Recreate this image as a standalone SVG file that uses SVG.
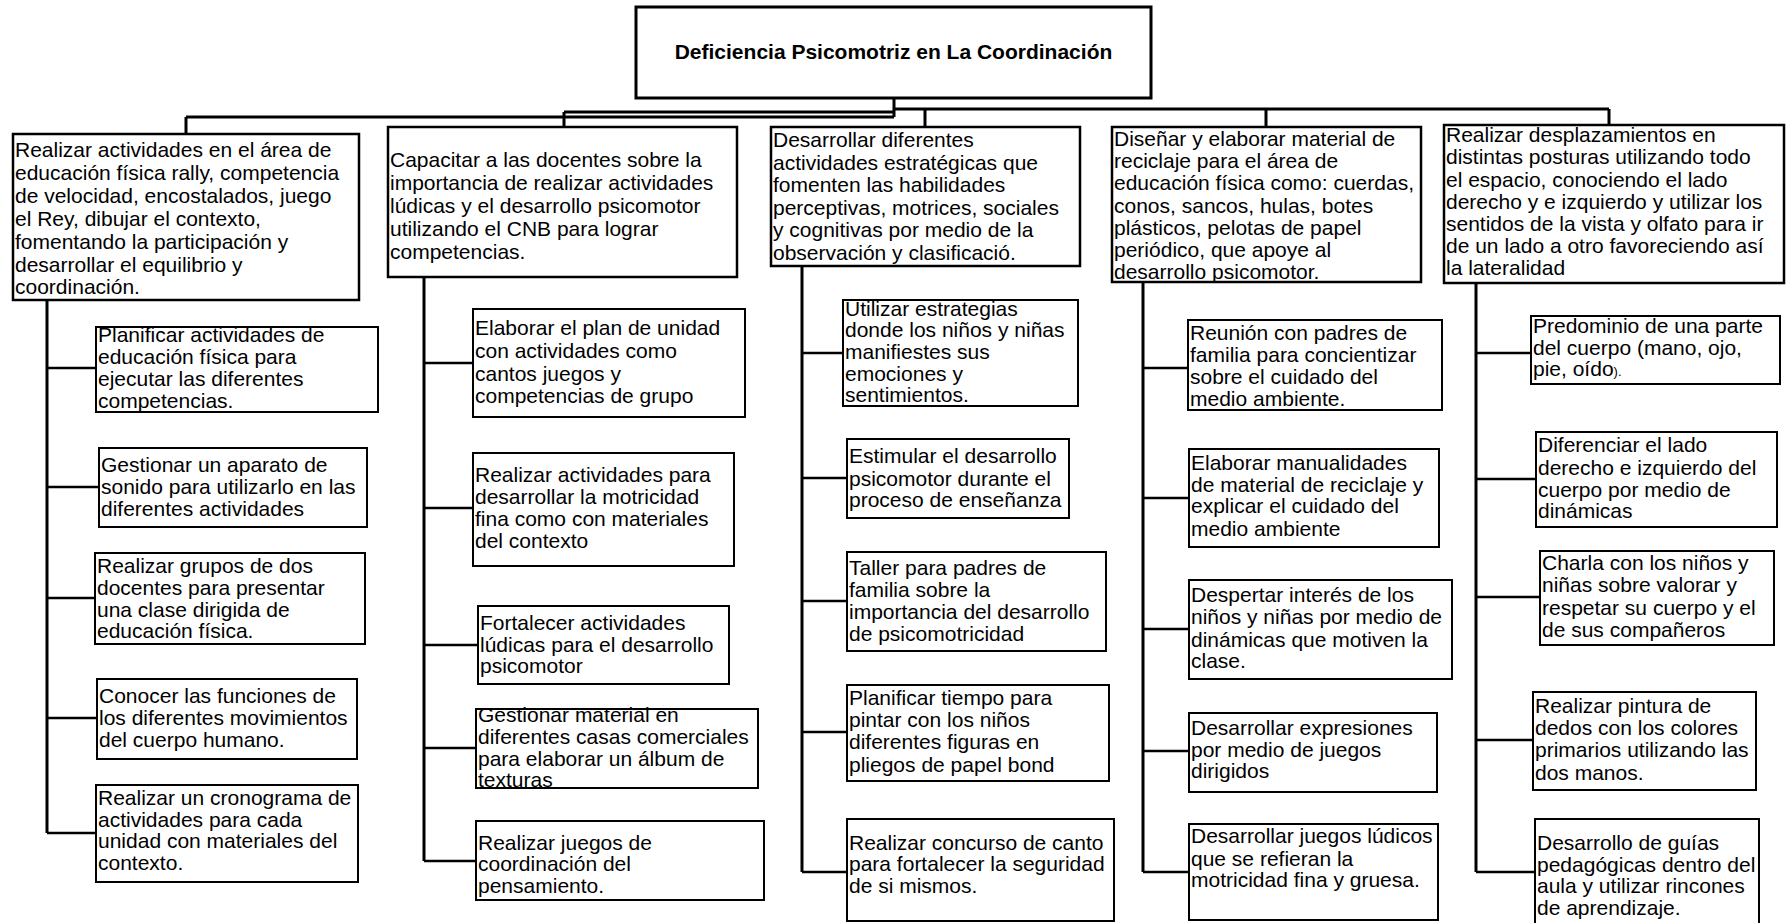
<svg xmlns="http://www.w3.org/2000/svg" width="1788" height="923" viewBox="0 0 1788 923">
<style>
.box{fill:#fff;stroke:#000;stroke-width:2}
.top{fill:#fff;stroke:#000;stroke-width:2.5}
.title{fill:#fff;stroke:#000;stroke-width:3}
.t{font-family:"Liberation Sans",Arial,sans-serif;font-size:21px;fill:#000}
.tb{font-family:"Liberation Sans",Arial,sans-serif;font-size:21px;font-weight:bold;fill:#000}
.bus{stroke:#000;stroke-width:3;fill:none}
.br{stroke:#000;stroke-width:2.5;fill:none}
</style>
<rect width="1788" height="923" fill="#fff"/>
<g id="connectors">
<path class="bus" d="M894 98V117M186 117H894M564 112H894M186 117V134M564 112V127M894 109H1609M925 109V127M1266 109V127M1609 109V125"/>
<path class="bus" d="M47 300V833M424 277V861M802 266V872M1143 282V872M1476 283V872"/>
<path class="br" d="M47 368H96M47 487H99M47 598H95M47 718H97M47 833H96"/>
<path class="br" d="M424 363H473M424 508H473M424 645H478M424 748H476M424 861H476"/>
<path class="br" d="M802 353H843M802 478H847M802 601H847M802 732H847M802 872H847"/>
<path class="br" d="M1143 368H1188M1143 498H1189M1143 629H1189M1143 751H1189M1143 872H1189"/>
<path class="br" d="M1476 353H1531M1476 479H1536M1476 597H1540M1476 740H1533M1476 872H1535"/>
</g>
<g id="title">
<rect class="title" x="636" y="7" width="515" height="91"/>
<text class="tb" x="893.5" y="59" text-anchor="middle">Deficiencia Psicomotriz en La Coordinación</text>
</g>
<g id="l1">
<rect class="top" x="13" y="134" width="346" height="166"/>
<text class="t"><tspan x="15" y="157">Realizar actividades en el área de</tspan><tspan x="15" y="180">educación física rally, competencia</tspan><tspan x="15" y="203">de velocidad, encostalados, juego</tspan><tspan x="15" y="226">el Rey, dibujar el contexto,</tspan><tspan x="15" y="249">fomentando la participación y</tspan><tspan x="15" y="272">desarrollar el equilibrio y</tspan><tspan x="15" y="294">coordinación.</tspan></text>
</g>
<g id="l2">
<rect class="top" x="388" y="127" width="349" height="150"/>
<text class="t"><tspan x="390" y="167">Capacitar a las docentes sobre la</tspan><tspan x="390" y="190">importancia de realizar actividades</tspan><tspan x="390" y="213">lúdicas y el desarrollo psicomotor</tspan><tspan x="390" y="236">utilizando el CNB para lograr</tspan><tspan x="390" y="259">competencias.</tspan></text>
</g>
<g id="l3">
<rect class="top" x="771" y="127" width="309" height="139"/>
<text class="t"><tspan x="773" y="147">Desarrollar diferentes</tspan><tspan x="773" y="170">actividades estratégicas que</tspan><tspan x="773" y="192">fomenten las habilidades</tspan><tspan x="773" y="215">perceptivas, motrices, sociales</tspan><tspan x="773" y="237">y cognitivas por medio de la</tspan><tspan x="773" y="260">observación y clasificació.</tspan></text>
</g>
<g id="l4">
<rect class="top" x="1112" y="127" width="309" height="155"/>
<text class="t"><tspan x="1114" y="146">Diseñar y elaborar material de</tspan><tspan x="1114" y="168">reciclaje para el área de</tspan><tspan x="1114" y="190">educación física como: cuerdas,</tspan><tspan x="1114" y="213">conos, sancos, hulas, botes</tspan><tspan x="1114" y="235">plásticos, pelotas de papel</tspan><tspan x="1114" y="257">periódico, que apoye al</tspan><tspan x="1114" y="279">desarrollo psicomotor.</tspan></text>
</g>
<g id="l5">
<rect class="top" x="1444" y="125" width="340" height="158"/>
<text class="t"><tspan x="1446" y="142">Realizar desplazamientos en</tspan><tspan x="1446" y="164">distintas posturas utilizando todo</tspan><tspan x="1446" y="187">el espacio, conociendo el lado</tspan><tspan x="1446" y="209">derecho y e izquierdo y utilizar los</tspan><tspan x="1446" y="231">sentidos de la vista y olfato para ir</tspan><tspan x="1446" y="253">de un lado a otro favoreciendo así</tspan><tspan x="1446" y="275">la lateralidad</tspan></text>
</g>
<g id="c1-1">
<rect class="box" x="96" y="327" width="282" height="85"/>
<text class="t"><tspan x="98" y="342">Planificar actividades de</tspan><tspan x="98" y="364">educación física para</tspan><tspan x="98" y="386">ejecutar las diferentes</tspan><tspan x="98" y="408">competencias.</tspan></text>
</g>
<g id="c1-2">
<rect class="box" x="99" y="448" width="268" height="79"/>
<text class="t"><tspan x="101" y="472">Gestionar un aparato de</tspan><tspan x="101" y="494">sonido para utilizarlo en las</tspan><tspan x="101" y="516">diferentes actividades</tspan></text>
</g>
<g id="c1-3">
<rect class="box" x="95" y="553" width="270" height="91"/>
<text class="t"><tspan x="97" y="573">Realizar grupos de dos</tspan><tspan x="97" y="595">docentes para presentar</tspan><tspan x="97" y="617">una clase dirigida de</tspan><tspan x="97" y="638">educación física.</tspan></text>
</g>
<g id="c1-4">
<rect class="box" x="97" y="679" width="260" height="80"/>
<text class="t"><tspan x="99" y="703">Conocer las funciones de</tspan><tspan x="99" y="725">los diferentes movimientos</tspan><tspan x="99" y="747">del cuerpo humano.</tspan></text>
</g>
<g id="c1-5">
<rect class="box" x="96" y="785" width="262" height="97"/>
<text class="t"><tspan x="98" y="805">Realizar un cronograma de</tspan><tspan x="98" y="827">actividades para cada</tspan><tspan x="98" y="848">unidad con materiales del</tspan><tspan x="98" y="870">contexto.</tspan></text>
</g>
<g id="c2-1">
<rect class="box" x="473" y="309" width="272" height="108"/>
<text class="t"><tspan x="475" y="335">Elaborar el plan de unidad</tspan><tspan x="475" y="358">con actividades como</tspan><tspan x="475" y="381">cantos juegos y</tspan><tspan x="475" y="403">competencias de grupo</tspan></text>
</g>
<g id="c2-2">
<rect class="box" x="473" y="453" width="261" height="113"/>
<text class="t"><tspan x="475" y="482">Realizar actividades para</tspan><tspan x="475" y="504">desarrollar la motricidad</tspan><tspan x="475" y="526">fina como con materiales</tspan><tspan x="475" y="548">del contexto</tspan></text>
</g>
<g id="c2-3">
<rect class="box" x="478" y="606" width="251" height="78"/>
<text class="t"><tspan x="480" y="630">Fortalecer actividades</tspan><tspan x="480" y="652">lúdicas para el desarrollo</tspan><tspan x="480" y="673">psicomotor</tspan></text>
</g>
<g id="c2-4">
<rect class="box" x="476" y="709" width="282" height="79"/>
<text class="t"><tspan x="478" y="722">Gestionar material en</tspan><tspan x="478" y="744">diferentes casas comerciales</tspan><tspan x="478" y="766">para elaborar un álbum de</tspan><tspan x="478" y="787">texturas</tspan></text>
</g>
<g id="c2-5">
<rect class="box" x="476" y="821" width="288" height="79"/>
<text class="t"><tspan x="478" y="850">Realizar juegos de</tspan><tspan x="478" y="871">coordinación del</tspan><tspan x="478" y="893">pensamiento.</tspan></text>
</g>
<g id="c3-1">
<rect class="box" x="843" y="300" width="235" height="106"/>
<text class="t"><tspan x="845" y="316">Utilizar estrategias</tspan><tspan x="845" y="337">donde los niños y niñas</tspan><tspan x="845" y="359">manifiestes sus</tspan><tspan x="845" y="381">emociones y</tspan><tspan x="845" y="402">sentimientos.</tspan></text>
</g>
<g id="c3-2">
<rect class="box" x="847" y="439" width="222" height="79"/>
<text class="t"><tspan x="849" y="463">Estimular el desarrollo</tspan><tspan x="849" y="486">psicomotor durante el</tspan><tspan x="849" y="507">proceso de enseñanza</tspan></text>
</g>
<g id="c3-3">
<rect class="box" x="847" y="552" width="259" height="99"/>
<text class="t"><tspan x="849" y="575">Taller para padres de</tspan><tspan x="849" y="597">familia sobre la</tspan><tspan x="849" y="619">importancia del desarrollo</tspan><tspan x="849" y="641">de psicomotricidad</tspan></text>
</g>
<g id="c3-4">
<rect class="box" x="847" y="685" width="262" height="96"/>
<text class="t"><tspan x="849" y="705">Planificar tiempo para</tspan><tspan x="849" y="727">pintar con los niños</tspan><tspan x="849" y="749">diferentes figuras en</tspan><tspan x="849" y="772">pliegos de papel bond</tspan></text>
</g>
<g id="c3-5">
<rect class="box" x="847" y="819" width="267" height="102"/>
<text class="t"><tspan x="849" y="850">Realizar concurso de canto</tspan><tspan x="849" y="871">para fortalecer la seguridad</tspan><tspan x="849" y="893">de si mismos.</tspan></text>
</g>
<g id="c4-1">
<rect class="box" x="1188" y="320" width="254" height="90"/>
<text class="t"><tspan x="1190" y="340"> Reunión con padres de</tspan><tspan x="1190" y="362">familia para concientizar</tspan><tspan x="1190" y="384">sobre el cuidado del</tspan><tspan x="1190" y="406">medio ambiente.</tspan></text>
</g>
<g id="c4-2">
<rect class="box" x="1189" y="449" width="250" height="98"/>
<text class="t"><tspan x="1191" y="470">Elaborar manualidades</tspan><tspan x="1191" y="492">de material de reciclaje y</tspan><tspan x="1191" y="513">explicar el cuidado del</tspan><tspan x="1191" y="536">medio ambiente</tspan></text>
</g>
<g id="c4-3">
<rect class="box" x="1189" y="580" width="263" height="99"/>
<text class="t"><tspan x="1191" y="602">Despertar interés de los</tspan><tspan x="1191" y="624">niños y niñas por medio de</tspan><tspan x="1191" y="647">dinámicas que motiven la</tspan><tspan x="1191" y="668">clase.</tspan></text>
</g>
<g id="c4-4">
<rect class="box" x="1189" y="713" width="248" height="79"/>
<text class="t"><tspan x="1191" y="735">Desarrollar expresiones</tspan><tspan x="1191" y="757">por medio de juegos</tspan><tspan x="1191" y="778">dirigidos</tspan></text>
</g>
<g id="c4-5">
<rect class="box" x="1189" y="824" width="249" height="96"/>
<text class="t"><tspan x="1191" y="843">Desarrollar juegos lúdicos</tspan><tspan x="1191" y="866">que se refieran la</tspan><tspan x="1191" y="887">motricidad fina y gruesa.</tspan></text>
</g>
<g id="c5-1">
<rect class="box" x="1531" y="316" width="249" height="68"/>
<text class="t"><tspan x="1533" y="333">Predominio de una parte</tspan><tspan x="1533" y="355">del cuerpo (mano, ojo,</tspan><tspan x="1533" y="376">pie, oído<tspan font-size="13">).</tspan></tspan></text>
</g>
<g id="c5-2">
<rect class="box" x="1536" y="432" width="241" height="95"/>
<text class="t"><tspan x="1538" y="452">Diferenciar el lado</tspan><tspan x="1538" y="475">derecho e izquierdo del</tspan><tspan x="1538" y="497">cuerpo por medio de</tspan><tspan x="1538" y="518">dinámicas</tspan></text>
</g>
<g id="c5-3">
<rect class="box" x="1540" y="551" width="234" height="94"/>
<text class="t"><tspan x="1542" y="570">Charla con los niños y</tspan><tspan x="1542" y="592">niñas sobre valorar y</tspan><tspan x="1542" y="615">respetar su cuerpo y el</tspan><tspan x="1542" y="637">de sus compañeros</tspan></text>
</g>
<g id="c5-4">
<rect class="box" x="1533" y="692" width="223" height="98"/>
<text class="t"><tspan x="1535" y="713">Realizar pintura de</tspan><tspan x="1535" y="735">dedos con los colores</tspan><tspan x="1535" y="757">primarios utilizando las</tspan><tspan x="1535" y="780">dos manos.</tspan></text>
</g>
<g id="c5-5">
<rect class="box" x="1535" y="819" width="224" height="106"/>
<text class="t"><tspan x="1537" y="850">Desarrollo de guías</tspan><tspan x="1537" y="872">pedagógicas dentro del</tspan><tspan x="1537" y="893">aula y utilizar rincones</tspan><tspan x="1537" y="915">de aprendizaje.</tspan></text>
</g>
</svg>
